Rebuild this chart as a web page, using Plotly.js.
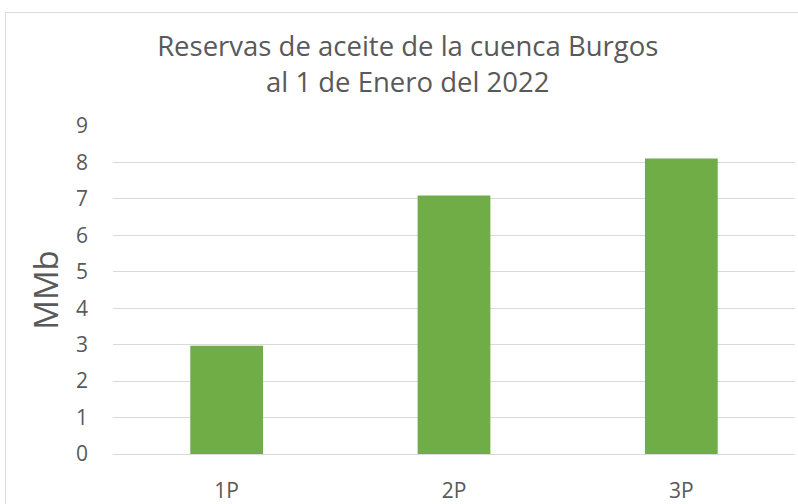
<!DOCTYPE html>
<html>
<head>
<meta charset="utf-8">
<script src="https://cdn.plot.ly/plotly-3.0.1.min.js"></script>
<style>
html,body{margin:0;padding:0;background:#fff;overflow:hidden;}
#frame{position:absolute;left:5px;top:12px;width:820px;height:520px;border:1px solid #d9d9d9;}
#chart{position:absolute;left:0;top:0;width:798px;height:504px;}
</style>
</head>
<body>
<div id="frame"></div>
<div id="chart"></div>
<script>
const categories = ["1P", "2P", "3P"];
const values = [2.97, 7.09, 8.11];
const titleText = "Reservas de aceite de la cuenca Burgos<br>al 1 de Enero del 2022";
const yTitle = "MMb";

const trace = {
  type: "bar",
  x: categories,
  y: values,
  marker: {color: "#70AD47"},
  hoverinfo: "x+y"
};

const layout = {
  width: 798,
  height: 504,
  paper_bgcolor: "rgba(0,0,0,0)",
  plot_bgcolor: "rgba(0,0,0,0)",
  margin: {l: 113, r: 3, t: 126, b: 50},
  bargap: 0.68,
  showlegend: false,
  font: {family: "Open Sans, sans-serif", color: "#595959"},
  title: {
    text: titleText,
    font: {size: 27.5, color: "#595959", family: "Open Sans, sans-serif"},
    x: 0.511, xref: "container", xanchor: "center",
    y: 0.889, yref: "container", yanchor: "middle"
  },
  xaxis: {
    type: "category",
    tickfont: {size: 21, color: "#595959"},
    showgrid: false,
    showline: false,
    ticks: "",
    ticklabelstandoff: 22
  },
  yaxis: {
    range: [0, 9],
    dtick: 1,
    tick0: 0,
    showgrid: true,
    gridcolor: "#d9d9d9",
    gridwidth: 1,
    zeroline: true,
    zerolinecolor: "#d9d9d9",
    zerolinewidth: 1,
    showline: false,
    ticks: "",
    tickfont: {size: 21, color: "#595959"},
    ticklabelstandoff: 24,
    title: {text: yTitle, font: {size: 33, color: "#595959"}, standoff: 7}
  }
};

Plotly.newPlot("chart", [trace], layout, {displayModeBar: false, staticPlot: true});
</script>
</body>
</html>
